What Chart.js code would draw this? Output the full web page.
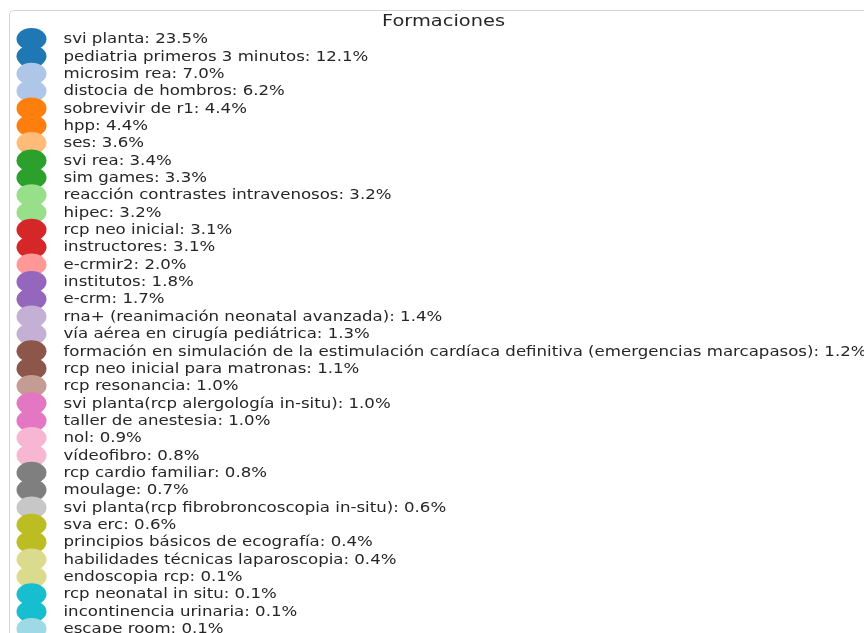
<!DOCTYPE html>
<html>
<head>
<meta charset="utf-8">
<script src="https://cdn.jsdelivr.net/npm/chart.js@4.4.1/dist/chart.umd.min.js"></script>
<style>
html, body { margin: 0; padding: 0; background: #ffffff; overflow: hidden; }
#wrap { width: 864px; height: 633px; overflow: hidden; position: relative; }
canvas { display: block; }
</style>
</head>
<body>
<div id="wrap"><canvas id="c" width="1800" height="633"></canvas></div>
<script>
const chartTitle = 'Formaciones';

const categories = [
  'svi planta',
  'pediatria primeros 3 minutos',
  'microsim rea',
  'distocia de hombros',
  'sobrevivir de r1',
  'hpp',
  'ses',
  'svi rea',
  'sim games',
  'reacción contrastes intravenosos',
  'hipec',
  'rcp neo inicial',
  'instructores',
  'e-crmir2',
  'institutos',
  'e-crm',
  'rna+ (reanimación neonatal avanzada)',
  'vía aérea en cirugía pediátrica',
  'formación en simulación de la estimulación cardíaca definitiva (emergencias marcapasos)',
  'rcp neo inicial para matronas',
  'rcp resonancia',
  'svi planta(rcp alergología in-situ)',
  'taller de anestesia',
  'nol',
  'vídeofibro',
  'rcp cardio familiar',
  'moulage',
  'svi planta(rcp fibrobroncoscopia in-situ)',
  'sva erc',
  'principios básicos de ecografía',
  'habilidades técnicas laparoscopia',
  'endoscopia rcp',
  'rcp neonatal in situ',
  'incontinencia urinaria',
  'escape room'
];

const shares = [
  23.5, 12.1, 7.0, 6.2, 4.4, 4.4, 3.6, 3.4, 3.3, 3.2,
  3.2, 3.1, 3.1, 2.0, 1.8, 1.7, 1.4, 1.3, 1.2, 1.1,
  1.0, 1.0, 1.0, 0.9, 0.8, 0.8, 0.7, 0.6, 0.6, 0.4,
  0.4, 0.1, 0.1, 0.1, 0.1
];

const sliceColors = [
  '#1f77b4', '#1f77b4', '#aec7e8', '#aec7e8', '#ff7f0e', '#ff7f0e', '#ffbb78',
  '#2ca02c', '#2ca02c', '#98df8a', '#98df8a', '#d62728', '#d62728', '#ff9896',
  '#9467bd', '#9467bd', '#c5b0d5', '#c5b0d5', '#8c564b', '#8c564b', '#c49c94',
  '#e377c2', '#e377c2', '#f7b6d2', '#f7b6d2', '#7f7f7f', '#7f7f7f', '#c7c7c7',
  '#bcbd22', '#bcbd22', '#dbdb8d', '#dbdb8d', '#17becf', '#17becf', '#9edae5'
];

// Legend drawn from the chart's own data (labels, values, slice colours)
const legendPlugin = {
  id: 'formacionesLegend',
  afterDraw(chart) {
    const ctx = chart.ctx;
    const labels = chart.data.labels;
    const values = chart.data.datasets[0].data;
    const meta = chart.getDatasetMeta(0);
    const texts = labels.map((l, i) => l + ': ' + Number(values[i]).toFixed(1) + '%');

    const labelFont = '13.8px "DejaVu Sans"';
    const titleFont = '15px "DejaVu Sans"';
    const textColor = '#262626';

    ctx.save();
    // frame
    ctx.fillStyle = 'rgba(255,255,255,0.8)';
    ctx.strokeStyle = '#d4d4d4';
    ctx.lineWidth = 1;
    ctx.beginPath();
    ctx.roundRect(9.5, 10.5, 868, 720, 4);
    ctx.fill();
    ctx.stroke();

    // horizontal stretch of the glyphs (the reference is widened)
    ctx.font = labelFont;
    let longest = 0;
    texts.forEach(t => { longest = Math.max(longest, ctx.measureText(t).width); });
    const sx = 803 / longest;
    ctx.font = titleFont;
    const tsx = 123 / ctx.measureText(chartTitle).width;

    // title
    ctx.fillStyle = textColor;
    ctx.textAlign = 'center';
    ctx.textBaseline = 'alphabetic';
    ctx.save();
    ctx.translate(443.5, 25.5);
    ctx.scale(tsx, 1);
    ctx.fillText(chartTitle, 0, 0);
    ctx.restore();

    // entries
    const rowStep = 17.35;
    const firstRow = 39;
    texts.forEach((t, i) => {
      const y = firstRow + i * rowStep;
      const arc = meta.data[i];
      const color = arc ? arc.options.backgroundColor : sliceColors[i];
      ctx.fillStyle = color;
      ctx.beginPath();
      ctx.ellipse(31.5, y, 15, 11, 0, 0, Math.PI * 2);
      ctx.fill();

      ctx.fillStyle = textColor;
      ctx.font = labelFont;
      ctx.textAlign = 'left';
      ctx.textBaseline = 'alphabetic';
      ctx.save();
      ctx.translate(63.5, y + 4.2);
      ctx.scale(sx, 1);
      ctx.fillText(t, 0, 0);
      ctx.restore();
    });
    ctx.restore();
  }
};

new Chart(document.getElementById('c'), {
  type: 'pie',
  data: {
    labels: categories,
    datasets: [{
      data: shares,
      backgroundColor: sliceColors,
      borderWidth: 0
    }]
  },
  options: {
    responsive: false,
    animation: false,
    layout: { padding: { left: 1000, top: 20, bottom: 20, right: 20 } },
    plugins: {
      legend: { display: false },
      tooltip: { enabled: false },
      title: { display: false }
    }
  },
  plugins: [legendPlugin]
});
</script>
</body>
</html>
